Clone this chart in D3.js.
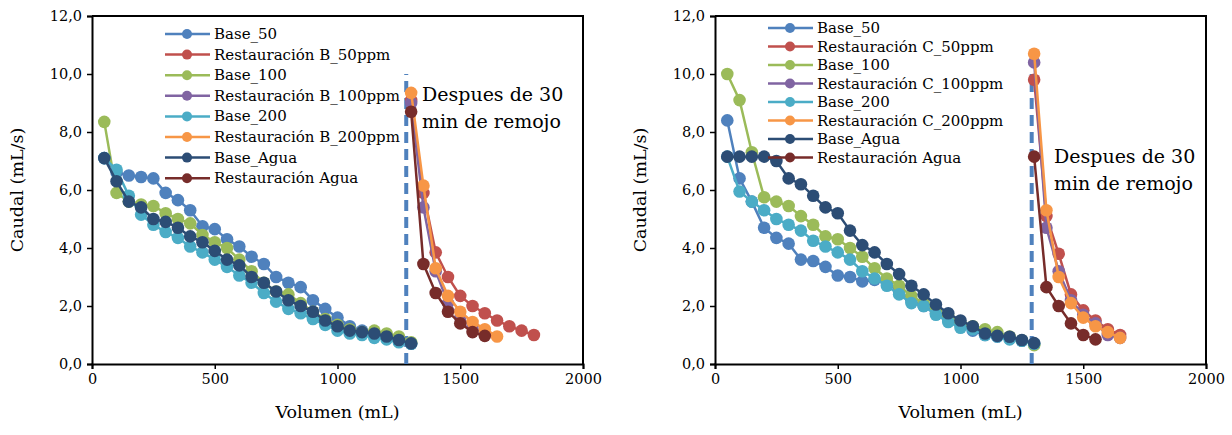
<!DOCTYPE html>
<html lang="es">
<head>
<meta charset="UTF-8">
<title>Caudal vs Volumen</title>
<script src="https://cdn.jsdelivr.net/npm/d3@7"></script>
<style>
  body { margin: 0; background: #fff; }
  text { font-family: "DejaVu Serif", serif; fill: #000; }
  .tick text { font-size: 14.5px; }
  .axis-title { font-size: 17.5px; }
  .legend text { font-size: 15px; }
  .note { font-size: 19px; }
</style>
</head>
<body>
<svg id="chart" width="1232" height="435"></svg>
<script>
// volumes (mL) for the base runs and for the runs after soaking
var volBase = [50, 100, 150, 200, 250, 300, 350, 400, 450, 500, 550, 600, 650,
               700, 750, 800, 850, 900, 950, 1000, 1050, 1100, 1150, 1200, 1250, 1300];
var volRest = [1300, 1350, 1400, 1450, 1500, 1550, 1600, 1650, 1700, 1750, 1800];

var xTicks = [0, 500, 1000, 1500, 2000];
var yTicks = [0, 2, 4, 6, 8, 10, 12];

// --- left chart (B)
var bBase50   = [7.1, 6.6, 6.5, 6.45, 6.4, 5.9, 5.65, 5.3, 4.75, 4.65, 4.3, 4.05, 3.7,
                 3.45, 3.0, 2.8, 2.65, 2.2, 1.9, 1.6, 1.3, 1.15, 1.05, 0.95, 0.8, 0.7];
var bRest50   = [9.1, 5.9, 3.85, 3.0, 2.35, 2.0, 1.75, 1.5, 1.3, 1.15, 1.0];
var bBase100  = [8.35, 5.9, 5.6, 5.5, 5.45, 5.2, 5.0, 4.85, 4.45, 4.2, 4.0, 3.6, 3.2,
                 2.8, 2.5, 2.4, 2.1, 1.8, 1.55, 1.35, 1.2, 1.1, 1.15, 1.05, 0.95, 0.75];
var bRest100  = [9.0, 5.4, 3.2, 2.1, 1.6, 1.3, 1.05];
var bBase200  = [7.1, 6.7, 5.8, 5.15, 4.8, 4.55, 4.35, 4.05, 3.85, 3.6, 3.35, 3.05, 2.8,
                 2.45, 2.15, 1.9, 1.75, 1.55, 1.35, 1.15, 1.05, 1.0, 0.9, 0.85, 0.75, 0.7];
var bRest200  = [9.35, 6.15, 3.3, 2.35, 1.8, 1.45, 1.2, 0.95];
var bBaseAgua = [7.1, 6.3, 5.6, 5.4, 5.0, 4.9, 4.7, 4.4, 4.2, 3.9, 3.6, 3.4, 3.0,
                 2.8, 2.5, 2.2, 2.0, 1.8, 1.5, 1.3, 1.15, 1.1, 1.05, 0.95, 0.83, 0.71];
var bRestAgua = [8.7, 3.45, 2.45, 1.8, 1.4, 1.1, 0.97];

// --- right chart (C)
var cBase50   = [8.4, 6.4, 5.6, 4.7, 4.35, 4.15, 3.6, 3.55, 3.35, 3.05, 3.0, 2.85, 2.9,
                 2.8, 2.5, 2.2, 2.0, 1.75, 1.55, 1.35, 1.15, 1.0, 0.95, 0.9, 0.8, 0.7];
var cRest50   = [9.8, 5.1, 3.8, 2.4, 1.85, 1.5, 1.2, 1.0];
var cBase100  = [10.0, 9.1, 7.3, 5.75, 5.6, 5.45, 5.1, 4.8, 4.4, 4.3, 4.0, 3.7, 3.3,
                 2.95, 2.7, 2.35, 2.1, 1.85, 1.65, 1.4, 1.3, 1.2, 1.1, 0.95, 0.82, 0.65];
var cRest100  = [10.4, 4.7, 3.2, 2.2, 1.7, 1.4, 1.0, 0.9];
var cBase200  = [7.15, 5.95, 5.6, 5.3, 5.0, 4.8, 4.6, 4.25, 4.05, 3.85, 3.6, 3.2, 2.95,
                 2.7, 2.4, 2.1, 2.0, 1.7, 1.45, 1.25, 1.2, 1.0, 0.95, 0.85, 0.8, 0.7];
var cRest200  = [10.7, 5.3, 3.0, 2.1, 1.6, 1.3, 1.1, 0.9];
var cBaseAgua = [7.15, 7.15, 7.15, 7.15, 7.0, 6.4, 6.2, 5.8, 5.4, 5.2, 4.6, 4.1, 3.85,
                 3.45, 3.1, 2.7, 2.4, 2.05, 1.75, 1.5, 1.3, 1.05, 0.97, 0.94, 0.83, 0.72];
var cRestAgua = [7.15, 2.65, 2.0, 1.4, 1.0, 0.85];

var colors = ["#4F81BD", "#C0504D", "#9BBB59", "#8064A2", "#4BACC6", "#F79646", "#2C4D75", "#772C2A"];

// dashed "soaking" line position (mL), top value
var soakVol = [1280, 1290];
var soakTop = 10;

function series(names, base50, rest50, base100, rest100, base200, rest200, baseAgua, restAgua) {
    var vals = [base50, rest50, base100, rest100, base200, rest200, baseAgua, restAgua];
    return vals.map(function(v, i) {
        var xs = (i % 2 === 0) ? volBase : volRest;
        return {
            name: names[i],
            color: colors[i],
            points: v.map(function(y, j) { return { x: xs[j], y: y }; })
        };
    });
}

var svg = d3.select("#chart");

function drawChart(cfg) {
    var x = d3.scaleLinear().domain([0, 2000]).range([cfg.left, cfg.right]);
    var y = d3.scaleLinear().domain([0, 12]).range([364, 16]);
    var g = svg.append("g");

    g.append("g").attr("transform", "translate(0," + y(0) + ")")
        .call(d3.axisBottom(x).tickValues(xTicks).tickSize(5).tickPadding(5)
            .tickFormat(d3.format("d")));

    g.append("g").attr("transform", "translate(" + cfg.left + ",0)")
        .call(d3.axisLeft(y).tickValues(yTicks).tickSize(5).tickPadding(5)
            .tickFormat(function(d) { return d3.format(".1f")(d).replace(".", ","); }));

    g.selectAll(".domain").attr("stroke", "#000").attr("stroke-width", 2);
    g.selectAll(".tick line").attr("stroke", "#000").attr("stroke-width", 1.5);

    // plot frame (top and right)
    g.append("path")
        .attr("d", "M" + cfg.left + "," + y(12) + "H" + cfg.right + "V" + y(0))
        .attr("fill", "none").attr("stroke", "#000").attr("stroke-width", 2);

    g.append("text").attr("class", "axis-title")
        .attr("x", (cfg.left + cfg.right) / 2).attr("y", 418)
        .attr("text-anchor", "middle").text("Volumen (mL)");
    g.append("text").attr("class", "axis-title")
        .attr("transform", "translate(" + (cfg.left - 69) + "," + y(6) + ") rotate(-90)")
        .attr("text-anchor", "middle").text("Caudal (mL/s)");

    // dashed line
    g.append("line")
        .attr("x1", x(cfg.soak)).attr("x2", x(cfg.soak))
        .attr("y1", y(0)).attr("y2", y(soakTop))
        .attr("stroke", "#4F81BD").attr("stroke-width", 4)
        .attr("stroke-dasharray", "11,6");

    var line = d3.line().x(function(d) { return x(d.x); }).y(function(d) { return y(d.y); });

    cfg.data.forEach(function(s) {
        var sg = g.append("g");
        sg.append("path").datum(s.points)
            .attr("d", line).attr("fill", "none")
            .attr("stroke", s.color).attr("stroke-width", 2.5);
        sg.selectAll("circle").data(s.points).enter().append("circle")
            .attr("cx", function(d) { return x(d.x); })
            .attr("cy", function(d) { return y(d.y); })
            .attr("r", 6.3).attr("fill", s.color);
    });

    // note
    var note = g.append("text").attr("class", "note")
        .attr("x", cfg.noteX).attr("y", cfg.noteY);
    note.append("tspan").attr("x", cfg.noteX).text("Despues de 30");
    note.append("tspan").attr("x", cfg.noteX).attr("dy", 27).text("min de remojo");

    // legend
    var lg = g.append("g").attr("class", "legend")
        .attr("transform", "translate(" + cfg.legX + "," + cfg.legY + ")");
    cfg.data.forEach(function(s, i) {
        var row = lg.append("g").attr("transform", "translate(0," + i * cfg.legStep + ")");
        row.append("line").attr("x1", 0).attr("x2", 45).attr("y1", 0).attr("y2", 0)
            .attr("stroke", s.color).attr("stroke-width", 2.5);
        row.append("circle").attr("cx", 22).attr("cy", 0).attr("r", 5).attr("fill", s.color);
        row.append("text").attr("x", 49).attr("y", 5).text(s.name);
    });
}

drawChart({
    left: 92, right: 583, soak: soakVol[0],
    noteX: 422, noteY: 101,
    legX: 165, legY: 34, legStep: 20.6,
    data: series(["Base_50", "Restauración B_50ppm", "Base_100", "Restauración B_100ppm",
                  "Base_200", "Restauración B_200ppm", "Base_Agua", "Restauración Agua"],
                 bBase50, bRest50, bBase100, bRest100, bBase200, bRest200, bBaseAgua, bRestAgua)
});

drawChart({
    left: 715, right: 1206, soak: soakVol[1],
    noteX: 1054, noteY: 163,
    legX: 768, legY: 28, legStep: 18.5,
    data: series(["Base_50", "Restauración C_50ppm", "Base_100", "Restauración C_100ppm",
                  "Base_200", "Restauración C_200ppm", "Base_Agua", "Restauración Agua"],
                 cBase50, cRest50, cBase100, cRest100, cBase200, cRest200, cBaseAgua, cRestAgua)
});
</script>
</body>
</html>
